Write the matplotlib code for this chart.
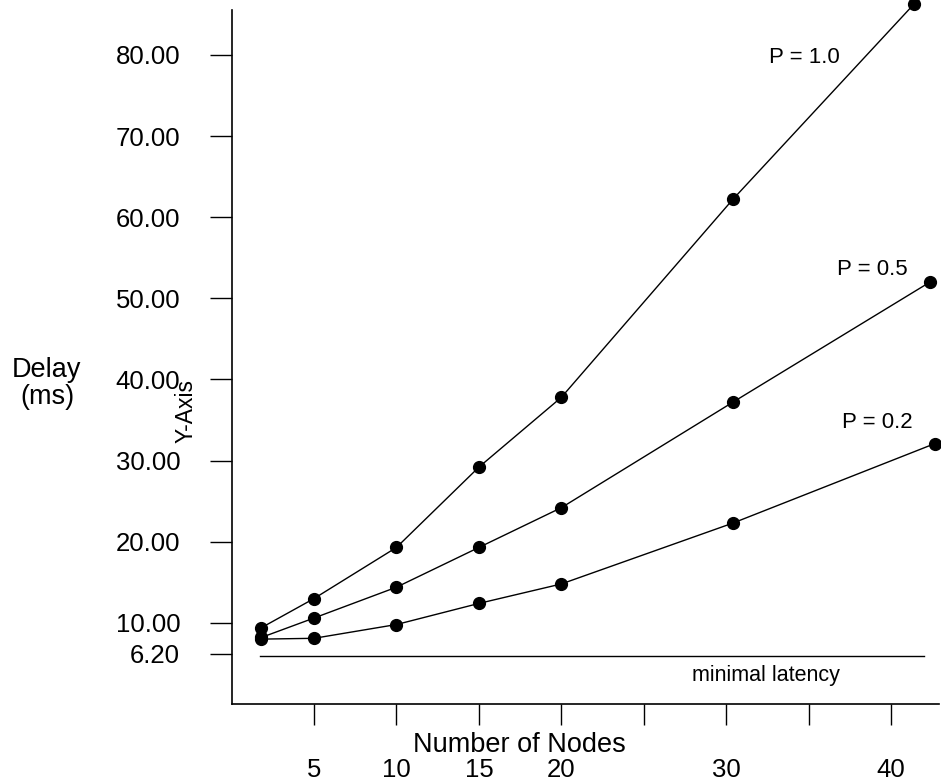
import matplotlib
matplotlib.use("Agg")
import matplotlib.pyplot as plt

plt.rcParams['font.family'] = ['Liberation Sans', 'DejaVu Sans']

# data
x_p10 = [1.8, 5, 10, 15, 20, 30.4, 41.4]
y_p10 = [9.4, 13.0, 19.3, 29.2, 37.8, 62.2, 86.3]
x_p05 = [1.8, 5, 10, 15, 20, 30.4, 42.35]
y_p05 = [8.2, 10.6, 14.4, 19.3, 24.2, 37.2, 52.0]
x_p02 = [1.8, 5, 10, 15, 20, 30.4, 42.65]
y_p02 = [8.0, 8.1, 9.8, 12.4, 14.8, 22.3, 32.1]
min_latency = 5.9
min_latency_x = [1.7, 42.0]

series_labels = ['P = 1.0', 'P = 0.5', 'P = 0.2']
y_ticks = [6.2, 10, 20, 30, 40, 50, 60, 70, 80]
y_tick_labels = ['6.20', '10.00', '20.00', '30.00', '40.00', '50.00', '60.00', '70.00', '80.00']
x_ticks = [5, 10, 15, 20, 25, 30, 35, 40]
x_tick_labels = ['5', '10', '15', '20', '', '30', '', '40']

fig = plt.figure(figsize=(9.41, 7.82), dpi=100)
ax = fig.add_axes([0.2461, 0.0997, 0.7518, 0.8875])

for xs, ys in [(x_p10, y_p10), (x_p05, y_p05), (x_p02, y_p02)]:
    ax.plot(xs, ys, color='black', linewidth=1.0, marker='o',
            markersize=8.5, clip_on=False)

ax.plot(min_latency_x, [min_latency, min_latency], color='black', linewidth=1.0)
ax.text(32.4, 3.55, 'minimal latency', fontsize=15.5, ha='center', va='center')

ax.text(32.6, 79.7, series_labels[0], fontsize=16, ha='left', va='center')
ax.text(36.7, 53.5, series_labels[1], fontsize=16, ha='left', va='center')
ax.text(37.0, 34.75, series_labels[2], fontsize=16, ha='left', va='center')

ax.set_xlim(0, 42.9)
ax.set_ylim(0, 85.53)

ax.spines['top'].set_visible(False)
ax.spines['right'].set_visible(False)
ax.spines['left'].set_linewidth(1.2)
ax.spines['bottom'].set_linewidth(1.2)

ax.set_yticks(y_ticks)
ax.set_yticklabels(y_tick_labels, fontsize=18.5)
ax.set_xticks(x_ticks)
ax.set_xticklabels(x_tick_labels, fontsize=18.5)
ax.tick_params(axis='y', direction='out', length=16, width=1.0, pad=21)
ax.tick_params(axis='x', direction='out', length=15, width=1.0, pad=23.5)

ax.set_xlabel('Number of Nodes', fontsize=19.5, va='center')
ax.xaxis.set_label_coords(0.407, -0.059)
ax.set_ylabel('Y-Axis', fontsize=16.5, va='center')
ax.yaxis.set_label_coords(-0.0645, 0.422)

fig.text(47 / 941, 1 - 383 / 782, 'Delay\n(ms)', fontsize=19.5,
         ha='center', va='center', linespacing=1.05)

fig.savefig('out.png', dpi=100)
